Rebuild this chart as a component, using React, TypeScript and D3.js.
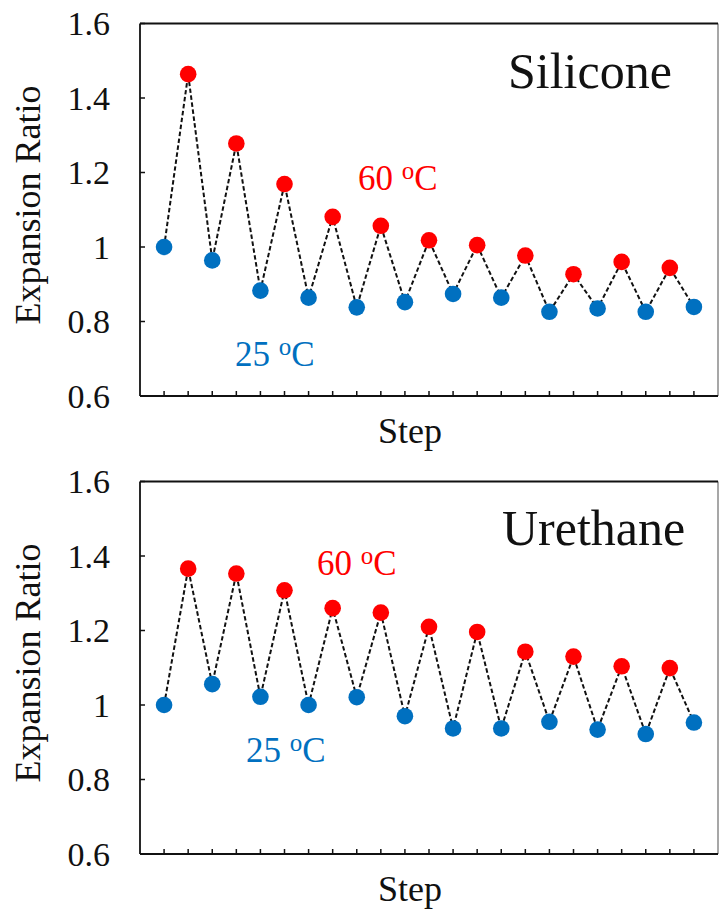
import React from "react";
import * as d3 from "d3";

// step index 0..22, alternating 25 °C (even) and 60 °C (odd)
const siliconeCold = [1.0, 0.964, 0.883, 0.864, 0.838, 0.852, 0.874, 0.864, 0.826, 0.835, 0.826, 0.839];
const siliconeHot = [1.464, 1.278, 1.169, 1.081, 1.057, 1.018, 1.005, 0.977, 0.927, 0.96, 0.944];
const urethaneCold = [1.0, 1.056, 1.022, 1.0, 1.021, 0.97, 0.937, 0.937, 0.955, 0.934, 0.922, 0.953];
const urethaneHot = [1.366, 1.353, 1.308, 1.26, 1.248, 1.21, 1.196, 1.143, 1.13, 1.104, 1.099];

const yTicks = [0.6, 0.8, 1, 1.2, 1.4, 1.6];
const tickLabels = ["0.6", "0.8", "1", "1.2", "1.4", "1.6"];

const W = 719;
const H = 915;
const FONT = "'Liberation Serif', 'Times New Roman', serif";
const BLUE = "#0070c0";
const RED = "#ff0000";

type Panel = {
  name: string;
  top: number;
  cold: number[];
  hot: number[];
  nameX: number;
  nameY: number;
  hotLabel: [number, number];
  coldLabel: [number, number];
};

const panels: Panel[] = [
  {
    name: "Silicone", top: 23.5, cold: siliconeCold, hot: siliconeHot,
    nameX: 508, nameY: 64.5, hotLabel: [358, 166.5], coldLabel: [235, 342.5],
  },
  {
    name: "Urethane", top: 481.5, cold: urethaneCold, hot: urethaneHot,
    nameX: 502, nameY: 63.5, hotLabel: [317, 93.5], coldLabel: [246, 280],
  },
];

const left = 140;
const right = 718;
const plotH = 372.5;

const interleave = (cold: number[], hot: number[]) => {
  const out: { i: number; v: number; hot: boolean }[] = [];
  cold.forEach((v, k) => {
    out.push({ i: 2 * k, v, hot: false });
    if (k < hot.length) out.push({ i: 2 * k + 1, v: hot[k], hot: true });
  });
  return out;
};

const Temp = ({ x, y, t, color }: { x: number; y: number; t: string; color: string }) => (
  <text x={x} y={y} fill={color} fontSize={35} fontFamily={FONT}>
    {t + " "}
    <tspan dy={-11} fontSize={25}>o</tspan>
    <tspan dy={11}>C</tspan>
  </text>
);

const PanelChart = ({ p }: { p: Panel }) => {
  const pts = interleave(p.cold, p.hot);
  const x = d3.scaleLinear().domain([-1, 23]).range([left, right]);
  const y = d3.scaleLinear().domain([0.6, 1.6]).range([p.top + plotH, p.top]);
  const line = d3.line<{ i: number; v: number }>().x((d) => x(d.i)).y((d) => y(d.v));
  const bottom = p.top + plotH;
  return (
    <g>
      {/* frame */}
      <line x1={right} x2={right} y1={p.top} y2={bottom} stroke="#8a8a8a" strokeWidth={1.5} />
      <line x1={left} x2={right} y1={p.top} y2={p.top} stroke="#111" strokeWidth={2} />
      <line x1={left} x2={left} y1={p.top} y2={bottom} stroke="#111" strokeWidth={1.8} />
      <line x1={left} x2={right} y1={bottom} y2={bottom} stroke="#111" strokeWidth={1.8} />
      {yTicks.map((t, k) => (
        <g key={t}>
          <line x1={left} x2={left + 5} y1={y(t)} y2={y(t)} stroke="#111" strokeWidth={1.5} />
          <text x={110} y={y(t) + 11.5} textAnchor="end" fontSize={34} fontFamily={FONT} fill="#111">
            {tickLabels[k]}
          </text>
        </g>
      ))}
      {pts.map((d) => (
        <line key={"t" + d.i} x1={x(d.i)} x2={x(d.i)} y1={bottom} y2={bottom - 5} stroke="#111" strokeWidth={1.5} />
      ))}
      <path d={line(pts) || ""} fill="none" stroke="#111" strokeWidth={2} strokeDasharray="4.5,2.5" />
      {pts.map((d) => (
        <circle key={"c" + d.i} cx={x(d.i)} cy={y(d.v)} r={8.3} fill={d.hot ? RED : BLUE} />
      ))}
      <text x={p.nameX} y={p.top + p.nameY} fontSize={50} fontFamily={FONT} fill="#111">{p.name}</text>
      <Temp x={p.hotLabel[0]} y={p.top + p.hotLabel[1]} t="60" color={RED} />
      <Temp x={p.coldLabel[0]} y={p.top + p.coldLabel[1]} t="25" color={BLUE} />
      <text
        transform={`translate(40,${p.top + 181.5}) rotate(-90)`}
        textAnchor="middle" fontSize={36} fontFamily={FONT} fill="#111"
      >
        Expansion Ratio
      </text>
      <text x={410} y={p.top + 419} textAnchor="middle" fontSize={36} fontFamily={FONT} fill="#111">Step</text>
    </g>
  );
};

export default function App() {
  return (
    <svg width={W} height={H} style={{ position: "absolute", left: 0, top: 0, background: "#fff" }}>
      {panels.map((p) => (
        <PanelChart key={p.name} p={p} />
      ))}
    </svg>
  );
}
